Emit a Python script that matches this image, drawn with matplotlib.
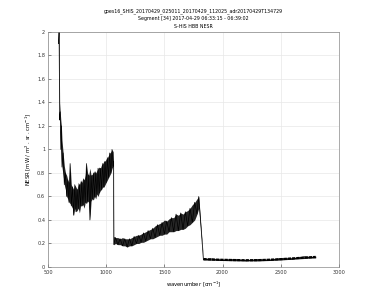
import numpy as np
import matplotlib
matplotlib.use("Agg")
import matplotlib.pyplot as plt

# --- values (wavenumber, lower/upper edge of the noisy trace) ---
wn_lw = [590, 595, 600, 605, 610, 615, 620, 630, 640, 650, 660, 670, 680, 690, 700,
         710, 720, 730, 740, 750, 760, 770, 780, 790, 800, 810, 820, 830, 840, 850,
         860, 870, 880, 890, 900, 910, 920, 930, 940, 950, 960, 970, 980, 990, 1000,
         1010, 1020, 1030, 1040, 1050, 1060]
lo_lw = [1.90, 1.45, 1.25, 1.10, 1.00, 0.90, 0.85, 0.78, 0.70, 0.66, 0.60, 0.58, 0.55, 0.54, 0.52,
         0.50, 0.44, 0.50, 0.47, 0.48, 0.50, 0.46, 0.52, 0.52, 0.53, 0.50, 0.55, 0.54, 0.56, 0.55,
         0.40, 0.56, 0.58, 0.57, 0.60, 0.58, 0.62, 0.60, 0.63, 0.65, 0.66, 0.68, 0.68, 0.70, 0.72,
         0.74, 0.76, 0.78, 0.80, 0.84, 0.86]
hi_lw = [2.00, 2.00, 1.40, 1.32, 1.25, 1.20, 1.08, 0.97, 0.86, 0.80, 0.78, 0.74, 0.72, 0.88, 0.70,
         0.68, 0.66, 0.70, 0.68, 0.66, 0.72, 0.70, 0.74, 0.72, 0.76, 0.74, 0.78, 0.88, 0.80, 0.78,
         0.84, 0.78, 0.79, 0.80, 0.82, 0.80, 0.82, 0.84, 0.85, 0.84, 0.87, 0.88, 0.90, 0.90, 0.92,
         0.93, 0.95, 0.97, 0.98, 1.00, 0.98]

wn_mw = [1063, 1065, 1080, 1100, 1120, 1140, 1160, 1180, 1200, 1220, 1240, 1260, 1280, 1300,
         1320, 1340, 1360, 1380, 1400, 1420, 1440, 1460, 1480, 1500, 1520, 1540, 1560, 1580,
         1600, 1620, 1640, 1660, 1680, 1700, 1720, 1740, 1760, 1780, 1795]
lo_mw = [0.19, 0.19, 0.20, 0.19, 0.19, 0.18, 0.18, 0.17, 0.18, 0.18, 0.19, 0.20, 0.20, 0.21,
         0.21, 0.22, 0.23, 0.24, 0.24, 0.25, 0.26, 0.27, 0.27, 0.28, 0.28, 0.30, 0.30, 0.30,
         0.31, 0.31, 0.32, 0.32, 0.33, 0.35, 0.36, 0.38, 0.40, 0.45, 0.50]
hi_mw = [0.90, 0.26, 0.25, 0.25, 0.24, 0.25, 0.24, 0.24, 0.24, 0.25, 0.26, 0.27, 0.27, 0.28,
         0.29, 0.30, 0.31, 0.32, 0.33, 0.35, 0.36, 0.37, 0.38, 0.40, 0.39, 0.41, 0.42, 0.42,
         0.45, 0.44, 0.46, 0.45, 0.47, 0.48, 0.50, 0.53, 0.55, 0.58, 0.60]

wn_sw = [1835, 1900, 2000, 2100, 2200, 2300, 2400, 2500, 2600, 2700, 2800]
lo_sw = [0.060, 0.058, 0.055, 0.053, 0.052, 0.052, 0.055, 0.060, 0.066, 0.072, 0.078]
hi_sw = [0.075, 0.070, 0.067, 0.065, 0.063, 0.064, 0.068, 0.073, 0.080, 0.087, 0.093]

x_ticks = [500, 1000, 1500, 2000, 2500, 3000]
y_ticks = [0, 0.2, 0.4, 0.6, 0.8, 1, 1.2, 1.4, 1.6, 1.8, 2]

title = ("goes16_SHIS_20170429_025011_20170429_112025_adr20170429T134729\n"
         "Segment [34] 2017-04-29 06:33:15 - 06:39:02\n"
         "S-HIS HBB NESR")

fig = plt.figure(figsize=(3.75, 3.01), dpi=100)
ax = fig.add_axes([0.128, 0.113, 0.776, 0.781])

wn = np.array(wn_lw + wn_mw + wn_sw, dtype=float)
lo = np.array(lo_lw + lo_mw + lo_sw)
hi = np.array(hi_lw + hi_mw + hi_sw)

# zig-zag between the read edges to give the noisy trace
trace = np.where(np.arange(len(wn)) % 2 == 0, lo, hi)
ax.fill_between(wn, lo, hi, color="black", lw=0, alpha=0.85)
ax.plot(wn, trace, color="black", lw=0.5)
ax.plot(wn_sw, [(a + b) / 2 for a, b in zip(lo_sw, hi_sw)], color="black", lw=1.6, ls=(0, (1.5, 0.4)))

ax.set_xlim(500, 3000)
ax.set_ylim(0, 2)
ax.set_xticks(x_ticks)
ax.set_yticks(y_ticks)
ax.set_yticklabels(["0", "0.2", "0.4", "0.6", "0.8", "1", "1.2", "1.4", "1.6", "1.8", "2"])
ax.grid(True, color="#e8e8e8", lw=0.5)
ax.set_axisbelow(True)
ax.tick_params(direction="in", length=2, width=0.4, labelsize=3.6, pad=2, colors="#333333")
for s in ax.spines.values():
    s.set_linewidth(0.5)
    s.set_color("#888888")

ax.set_xlabel("wavenumber [cm$^{-1}$]", fontsize=3.8, labelpad=3)
ax.set_ylabel("NESR [mW / m$^{2}$ . sr . cm$^{-1}$]", fontsize=3.8, labelpad=3)
ax.set_title(title, fontsize=3.4, linespacing=1.6, pad=3)

fig.savefig("out.png", dpi=100)
